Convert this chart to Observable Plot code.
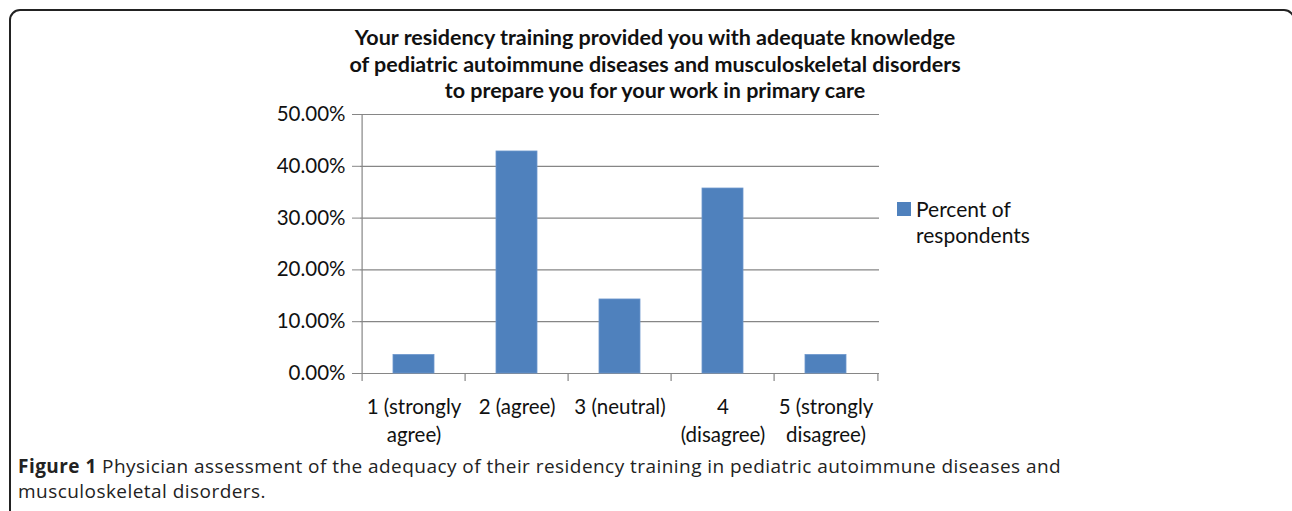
<!DOCTYPE html>
<html>
<head>
<meta charset="utf-8">
<script src="https://cdn.jsdelivr.net/npm/d3@7"></script>
<script src="https://cdn.jsdelivr.net/npm/@observablehq/plot@0.6"></script>
<style>
  html, body { margin: 0; padding: 0; background: #fff; }
  body { width: 1292px; height: 511px; overflow: hidden; position: relative; }
  #box { position: absolute; left: 9px; top: 9px; width: 1286px; height: 540px;
         border: 2px solid #222; border-radius: 11px; box-sizing: border-box; }
  #title { position: absolute; left: 0; width: 1310px; top: 24px; text-align: center;
           font-family: Lato, sans-serif; font-weight: bold; font-size: 21.5px; line-height: 26.5px; color: #111; }
  #chart { position: absolute; left: 0; top: 0; }
  #legend { position: absolute; left: 897px; top: 196px; font-family: Lato, sans-serif;
            font-size: 21px; line-height: 26px; color: #111; }
  #legend .sw { position: absolute; left: 0; top: 6px; width: 14px; height: 14px; background: #4F81BD; }
  #legend .tx { position: absolute; left: 19px; top: 0; white-space: nowrap; }
  #caption { position: absolute; left: 18px; top: 454px; white-space: nowrap; font-family: "Open Sans", sans-serif;
             font-size: 19px; letter-spacing: 0.45px; line-height: 25px; color: #222; }
</style>
</head>
<body>
<div id="box"></div>
<div id="chart"></div>
<div id="title">Your residency training provided you with adequate knowledge<br>of pediatric autoimmune diseases and musculoskeletal disorders<br>to prepare you for your work in primary care</div>
<div id="legend"><div class="sw"></div><div class="tx">Percent of<br>respondents</div></div>
<div id="caption"><b>Figure 1</b> Physician assessment of the adequacy of their residency training in pediatric autoimmune diseases and<br>musculoskeletal disorders.</div>
<script>
const categories = ["1 (strongly\nagree)", "2 (agree)", "3 (neutral)", "4\n(disagree)", "5 (strongly\ndisagree)"];
const percents = [0.0357, 0.4286, 0.1429, 0.3571, 0.0357];
const yTicks = [0, 0.1, 0.2, 0.3, 0.4, 0.5];

const data = categories.map((c, i) => ({category: c, value: percents[i]}));

const W = 1292, H = 470;
const mL = 360, mR = 413, mT = 114, mB = H - 373;
const halfStep = (W - mL - mR) / categories.length / 2;
const gray = "#868686";

const chart = Plot.plot({
  width: W,
  height: H,
  marginLeft: mL,
  marginRight: mR,
  marginTop: mT,
  marginBottom: mB,
  style: {fontFamily: "Lato, sans-serif", fontSize: "19px", color: "#111", background: "transparent", fontVariantNumeric: "tabular-nums"},
  x: {domain: categories, paddingInner: 0.6, paddingOuter: 0.3, axis: null},
  y: {domain: [0, 0.5], axis: null},
  marks: [
    Plot.gridY(yTicks, {stroke: gray, strokeOpacity: 1, strokeWidth: 1.2}),
    Plot.axisY(yTicks, {label: null, tickFormat: d3.format(".2%"), tickSize: 8, tickPadding: 7, stroke: gray, strokeOpacity: 1, fontSize: 20.5, fill: "#111"}),
    Plot.ruleX([categories[0]], {x: d => d, dx: -halfStep, stroke: gray, strokeWidth: 1.2}),
    Plot.barY(data, {x: "category", y: "value", fill: "#4F81BD", stroke: "#6b96cc", strokeWidth: 0.8}),
    Plot.ruleX(categories, {x: d => d, dx: -halfStep, y1: 0, y2: 0, insetBottom: -8, stroke: gray, strokeWidth: 1.2}),
    Plot.ruleX([categories[categories.length - 1]], {x: d => d, dx: halfStep, y1: 0, y2: 0, insetBottom: -8, stroke: gray, strokeWidth: 1.2}),
    Plot.text(data, {x: "category", text: "category", frameAnchor: "bottom", dy: 21, lineAnchor: "top", lineHeight: 1.35, fontSize: 20.5, fill: "#111"})
  ]
});
document.getElementById("chart").appendChild(chart);
</script>
</body>
</html>
